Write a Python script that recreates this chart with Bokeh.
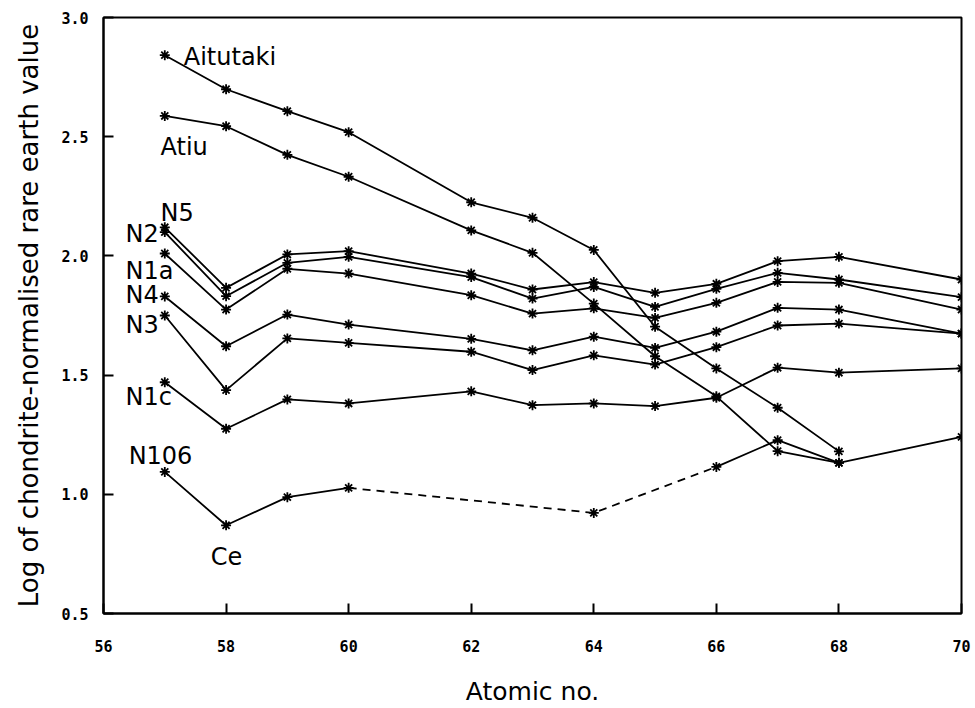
from bokeh.plotting import figure
from bokeh.models import Range1d, FixedTicker, Label, PrintfTickFormatter
from bokeh.embed import file_html
from bokeh.resources import INLINE

# Atomic numbers (La..Lu, without Pm=61 and Tm=69)
atomic = [57, 58, 59, 60, 62, 63, 64, 65, 66, 67, 68, 70]
n5 = [2.12, 1.866, 2.006, 2.020, 1.926, 1.859, 1.890, 1.845, 1.883, 1.978, 1.996, 1.901]
n2 = [2.10, 1.831, 1.971, 1.996, 1.911, 1.821, 1.870, 1.786, 1.862, 1.929, 1.901, 1.827]
n1a = [2.01, 1.775, 1.946, 1.926, 1.835, 1.758, 1.780, 1.740, 1.803, 1.891, 1.887, 1.775]
n4 = [1.83, 1.621, 1.754, 1.712, 1.652, 1.604, 1.661, 1.614, 1.682, 1.782, 1.775, 1.674]
n3 = [1.75, 1.437, 1.654, 1.635, 1.598, 1.521, 1.583, 1.544, 1.617, 1.708, 1.716, 1.674]
n1c = [1.47, 1.275, 1.398, 1.381, 1.432, 1.374, 1.381, 1.370, 1.405, 1.531, 1.510, 1.528]

island_atomic = [57, 58, 59, 60, 62, 63, 64, 65, 66, 67, 68]
aitutaki = [2.842, 2.699, 2.607, 2.519, 2.225, 2.160, 2.025, 1.703, 1.528, 1.363, 1.180]
atiu = [2.587, 2.544, 2.424, 2.332, 2.107, 2.013, 1.800, 1.579, 1.411, 1.181, 1.132]

n106_atomic = [57, 58, 59, 60, 64, 66, 67, 68, 70]
n106 = [1.094, 0.870, 0.988, 1.027, 0.922, 1.115, 1.227, 1.132, 1.241]

x_ticks = [56, 58, 60, 62, 64, 66, 68, 70]
y_ticks = [0.5, 1.0, 1.5, 2.0, 2.5, 3.0]

# series labels: (text, x, y)
labels = [
    ("Aitutaki", 57.31, 2.836),
    ("Atiu", 56.93, 2.455),
    ("N5", 56.93, 2.18),
    ("N2", 56.36, 2.09),
    ("N1a", 56.36, 1.935),
    ("N4", 56.36, 1.838),
    ("N3", 56.36, 1.712),
    ("N1c", 56.36, 1.41),
    ("N106", 56.41, 1.159),
    ("Ce", 57.75, 0.739),
]

p = figure(width=975, height=708, output_backend="svg", toolbar_location=None,
           x_range=Range1d(56, 70), y_range=Range1d(0.5, 3.0),
           min_border_left=103, min_border_right=14, min_border_top=17,
           min_border_bottom=94)
p.background_fill_color = "white"
p.border_fill_color = "white"
p.grid.visible = False
p.outline_line_color = "black"
p.outline_line_width = 2
p.outline_line_alpha = 1.0

lw = 1.8
msize = 10
for ys in [n5, n2, n1a, n4, n3, n1c]:
    p.line(atomic, ys, line_color="black", line_width=lw)
    p.scatter(atomic, ys, marker="asterisk", size=msize, line_color="black", line_width=1.8)

for ys in [aitutaki, atiu]:
    p.line(island_atomic, ys, line_color="black", line_width=lw)
    p.scatter(island_atomic, ys, marker="asterisk", size=msize, line_color="black", line_width=1.8)

# N106: solid where measured consecutively, dashed across the gaps
p.line(n106_atomic[0:4], n106[0:4], line_color="black", line_width=lw)
p.line(n106_atomic[3:6], n106[3:6], line_color="black", line_width=lw, line_dash="8 6")
p.line(n106_atomic[5:], n106[5:], line_color="black", line_width=lw)
p.scatter(n106_atomic, n106, marker="asterisk", size=msize, line_color="black", line_width=1.8)

for txt, lx, ly in labels:
    p.add_layout(Label(x=lx, y=ly, text=txt, text_font="DejaVu Sans", text_font_size="24px",
                       text_color="black", text_align="left", text_baseline="middle"))

for ax in [p.xaxis[0], p.yaxis[0]]:
    ax.axis_line_color = "black"
    ax.axis_line_width = 2
    ax.major_tick_line_color = "black"
    ax.major_tick_line_width = 2
    ax.major_tick_in = 10
    ax.major_tick_out = 0
    ax.minor_tick_line_color = None
    ax.major_label_text_font = "DejaVu Sans Mono"
    ax.major_label_text_font_size = "15px"
    ax.major_label_text_font_style = "bold"
    ax.major_label_text_color = "black"
    ax.axis_label_text_font = "DejaVu Sans"
    ax.axis_label_text_font_style = "normal"
    ax.axis_label_text_color = "black"

p.xaxis.axis_label_text_font_size = "25px"
p.yaxis.axis_label_text_font_size = "26px"
p.xaxis.ticker = FixedTicker(ticks=x_ticks)
p.yaxis.ticker = FixedTicker(ticks=y_ticks)
p.yaxis.formatter = PrintfTickFormatter(format="%.1f")
p.xaxis.axis_label = "Atomic no."
p.yaxis.axis_label = "Log of chondrite-normalised rare earth value"
p.xaxis.major_label_standoff = 26
p.yaxis.major_label_standoff = 15
p.xaxis.axis_label_standoff = 22
p.yaxis.axis_label_standoff = 14

open("out.html", "w").write(file_html(p, INLINE))
